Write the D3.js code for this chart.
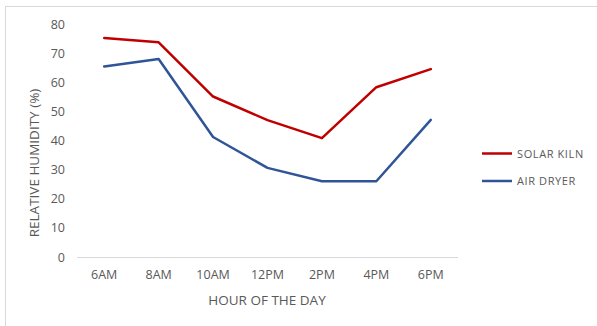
<!DOCTYPE html>
<html>
<head>
<meta charset="utf-8">
<script src="https://cdn.jsdelivr.net/npm/d3@7"></script>
<style>
  html, body { margin: 0; padding: 0; background: #fff; }
  svg { display: block; }
  text { font-family: "Open Sans", "Liberation Sans", sans-serif; fill: #595959; }
</style>
</head>
<body>
<svg id="chart" width="597" height="326"></svg>
<script>
// Hourly relative humidity readings
const hours = ["6AM", "8AM", "10AM", "12PM", "2PM", "4PM", "6PM"];
const solarKiln = [75.2, 73.7, 55.1, 47.0, 40.8, 58.3, 64.5];
const airDryer = [65.4, 68.0, 41.2, 30.6, 26.0, 26.0, 47.1];
const yTicks = [0, 10, 20, 30, 40, 50, 60, 70, 80];
const seriesNames = ["SOLAR KILN", "AIR DRYER"];
const seriesColors = ["#C00000", "#2F5597"];

const svg = d3.select("#chart");

// Outer chart frame
svg.append("rect")
  .attr("x", 5.5).attr("y", 6.5)
  .attr("width", 620).attr("height", 340)
  .attr("fill", "none").attr("stroke", "#D9D9D9").attr("stroke-width", 1);

const plot = { left: 77, right: 458, top: 24, bottom: 257 };

const x = d3.scaleBand().domain(hours).range([plot.left, plot.right]);
const y = d3.scaleLinear().domain([0, 80]).range([plot.bottom, plot.top]);

// Y axis labels (no axis line)
const yAxis = d3.axisLeft(y).tickValues(yTicks).tickSize(0).tickPadding(0);
const yg = svg.append("g").attr("transform", `translate(${65},0)`).call(yAxis);
yg.select(".domain").remove();
yg.selectAll("text").style("font-size", "12.5px").attr("fill", "#595959");

// X axis baseline and labels
const xAxis = d3.axisBottom(x).tickSize(0).tickPadding(13);
const xg = svg.append("g").attr("transform", `translate(0,${y(0)})`).call(xAxis);
xg.select(".domain").attr("stroke", "#D9D9D9").attr("stroke-width", 1.2)
  .attr("d", `M${plot.left},0.5H${plot.right}`);
xg.selectAll("text").style("font-size", "12.5px").attr("fill", "#595959");

// Series lines
const line = d3.line()
  .x((d, i) => x(hours[i]) + x.bandwidth() / 2)
  .y(d => y(d));

[solarKiln, airDryer].forEach((vals, k) => {
  svg.append("path")
    .datum(vals)
    .attr("d", line)
    .attr("fill", "none")
    .attr("stroke", seriesColors[k])
    .attr("stroke-width", 2.5)
    .attr("stroke-linejoin", "round")
    .attr("stroke-linecap", "round");
});

// Axis titles
svg.append("text")
  .attr("transform", `translate(39,163) rotate(-90)`)
  .attr("text-anchor", "middle")
  .style("font-size", "13.5px")
  .text("RELATIVE HUMIDITY (%)");

svg.append("text")
  .attr("x", 267).attr("y", 305)
  .attr("text-anchor", "middle")
  .style("font-size", "13.5px")
  .text("HOUR OF THE DAY");

// Legend
const legend = svg.append("g");
seriesNames.forEach((name, k) => {
  const ly = 153.5 + k * 27.5;
  legend.append("line")
    .attr("x1", 482).attr("x2", 512)
    .attr("y1", ly).attr("y2", ly)
    .attr("stroke", seriesColors[k]).attr("stroke-width", 2.5);
  legend.append("text")
    .attr("x", 517).attr("y", ly + 4)
    .style("font-size", "11px")
    .style("letter-spacing", "0.6px")
    .text(name);
});
</script>
</body>
</html>
